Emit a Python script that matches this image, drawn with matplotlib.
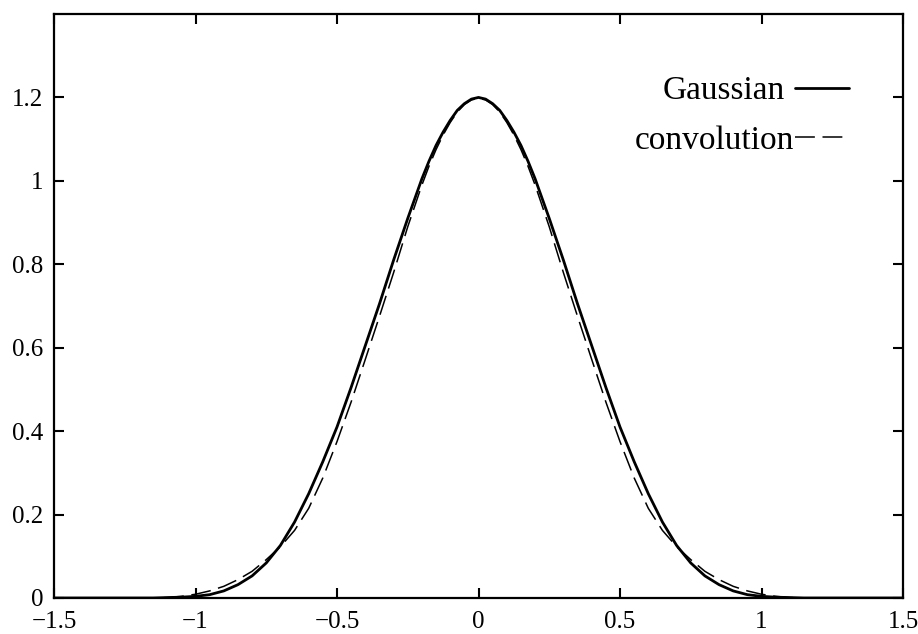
import matplotlib
matplotlib.use("Agg")
import matplotlib.pyplot as plt

# ---- data ----
x_pos = [0.000, 0.025, 0.050, 0.075, 0.100, 0.125, 0.150, 0.175, 0.200, 0.25,
         0.30, 0.35, 0.40, 0.45, 0.50, 0.55, 0.60, 0.65, 0.70, 0.75,
         0.80, 0.85, 0.90, 0.95, 1.00, 1.05, 1.10, 1.15, 1.20, 1.30, 1.40, 1.50]
gauss_pos = [1.200, 1.196, 1.185, 1.169, 1.145, 1.117, 1.085, 1.047, 1.005, 0.910,
             0.810, 0.705, 0.605, 0.505, 0.410, 0.327, 0.250, 0.182, 0.126, 0.084,
             0.053, 0.032, 0.017, 0.008, 0.004, 0.002, 0.001, 0.000, 0.000, 0.000,
             0.000, 0.000]
conv_pos = [1.198, 1.194, 1.183, 1.165, 1.140, 1.110, 1.075, 1.035, 0.990, 0.890,
            0.780, 0.675, 0.572, 0.470, 0.375, 0.288, 0.215, 0.162, 0.123, 0.092,
            0.064, 0.044, 0.028, 0.017, 0.009, 0.004, 0.001, 0.000, 0.000, 0.000,
            0.000, 0.000]

x_vals = [-v for v in x_pos[::-1]] + x_pos[1:]
gauss_vals = gauss_pos[::-1] + gauss_pos[1:]
conv_vals = conv_pos[::-1] + conv_pos[1:]

series_labels = ["Gaussian", "convolution"]
x_ticks = [-1.5, -1.0, -0.5, 0.0, 0.5, 1.0, 1.5]
x_ticklabels = ["\u22121.5", "\u22121", "\u22120.5", "0", "0.5", "1", "1.5"]
y_ticks = [0.0, 0.2, 0.4, 0.6, 0.8, 1.0, 1.2]
y_ticklabels = ["0", "0.2", "0.4", "0.6", "0.8", "1", "1.2"]

# ---- figure ----
plt.rcParams["font.family"] = ["Liberation Serif", "DejaVu Serif"]
fig = plt.figure(figsize=(9.18, 6.34), dpi=100)
ax = fig.add_axes([54 / 918, 1 - 598 / 634, (903 - 54) / 918, (598 - 14) / 634])

l1, = ax.plot(x_vals, gauss_vals, color="black", lw=2.0,
              solid_capstyle="round", solid_joinstyle="round")
l2, = ax.plot(x_vals, conv_vals, color="black", lw=1.1, dashes=(13, 5))

ax.set_xlim(-1.5, 1.5)
ax.set_ylim(0, 1.4)
ax.set_xticks(x_ticks)
ax.set_xticklabels(x_ticklabels)
ax.set_yticks(y_ticks)
ax.set_yticklabels(y_ticklabels)

ax.tick_params(axis="both", which="both", direction="in", length=7, width=1.5,
               top=True, right=True, labelsize=18, color="black")
ax.tick_params(axis="x", pad=9.5)
ax.tick_params(axis="y", pad=7.5)
for sp in ax.spines.values():
    sp.set_linewidth(1.6)

leg1 = ax.legend([l1], [series_labels[0]], loc="center right",
                 bbox_to_anchor=(0.936, 0.868), frameon=False, markerfirst=False,
                 fontsize=24, handlelength=1.6, handletextpad=0.3,
                 borderpad=0, borderaxespad=0)
ax.add_artist(leg1)
ax.legend([l2], [series_labels[1]], loc="center right",
          bbox_to_anchor=(0.936, 0.783), frameon=False, markerfirst=False,
          fontsize=24, handlelength=1.6, handletextpad=0.05,
          borderpad=0, borderaxespad=0)

fig.savefig("out.png", dpi=100)
